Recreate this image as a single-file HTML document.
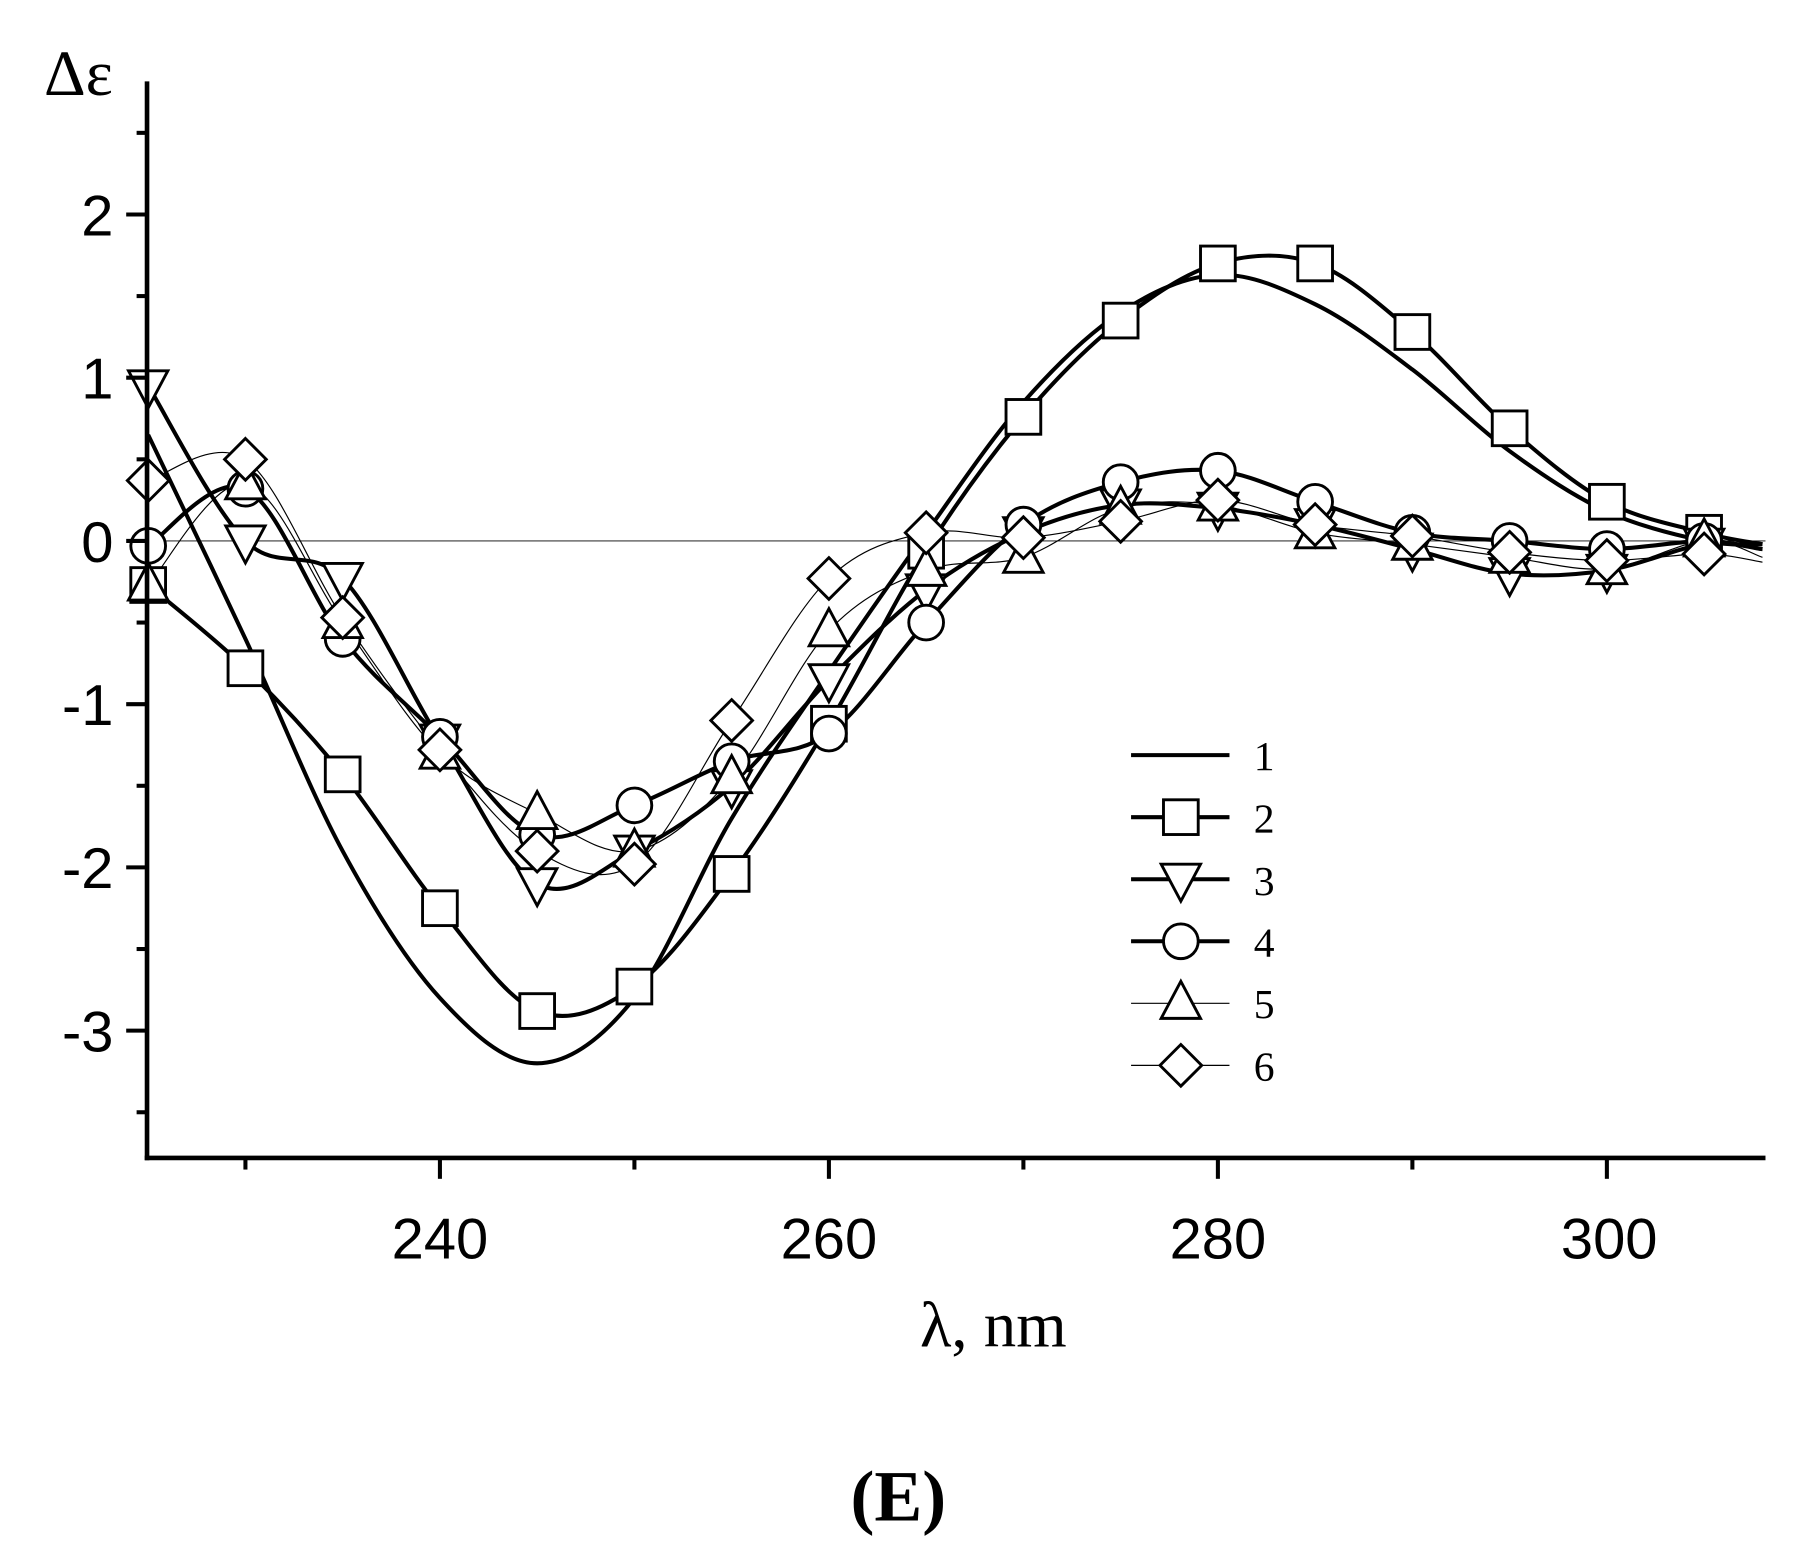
<!DOCTYPE html>
<html><head><meta charset="utf-8"><style>
html,body{margin:0;padding:0;background:#fff}
svg{display:block}
text{font-family:"Liberation Sans",sans-serif;fill:#000}
text.serif{font-family:"Liberation Serif",serif}
</style></head><body>
<svg id="s" width="1806" height="1560" viewBox="0 0 1560 1347" xmlns="http://www.w3.org/2000/svg">
<defs><clipPath id="c"><rect x="127" y="60" width="1400" height="940"/></clipPath></defs>
<line x1="127" y1="467" x2="1525" y2="467" stroke="#000" stroke-width="0.8"/>
<g id="curves" clip-path="url(#c)"></g>
<g id="marks"></g>
<g stroke="#000" stroke-width="4" fill="none">
<line x1="127" y1="70" x2="127" y2="1002"/>
<line x1="125" y1="1000" x2="1525" y2="1000"/>
</g>
<g id="ticks" stroke="#000" stroke-width="3.5"></g>
<g font-size="50" text-anchor="end">
<text x="98" y="203">2</text><text x="98" y="344">1</text><text x="98" y="485">0</text>
<text x="98" y="626">-1</text><text x="98" y="767">-2</text><text x="98" y="908">-3</text>
</g>
<g font-size="50" text-anchor="middle">
<text x="380" y="1087">240</text><text x="716" y="1087">260</text><text x="1052" y="1087">280</text><text x="1390" y="1087">300</text>
</g>
<text class="serif" x="38" y="82" font-size="56">Δε</text>
<text class="serif" x="858" y="1163" font-size="56" text-anchor="middle">λ, nm</text>
<text class="serif" x="776" y="1313" font-size="62" font-weight="bold" text-anchor="middle">(E)</text>
<g id="legend"></g>
<g font-size="36">
<text class="serif" x="1083" y="665">1</text><text class="serif" x="1083" y="719">2</text><text class="serif" x="1083" y="773">3</text>
<text class="serif" x="1083" y="826">4</text><text class="serif" x="1083" y="879">5</text><text class="serif" x="1083" y="933">6</text>
</g>
</svg>
<script>
const X=l=>380+(l-240)*16.8, Y=v=>467-141*v;
const L=[225,230,235,240,245,250,255,260,265,270,275,280,285,290,295,300,305,308];
const S=[
{m:null,w:3.5,d:[0.65,-0.6,-1.9,-2.8,-3.2,-2.8,-1.7,-0.8,0.05,0.85,1.4,1.63,1.45,1.05,0.55,0.18,0.0,-0.02]},
{m:'sq',w:3.5,d:[-0.27,-0.78,-1.43,-2.25,-2.88,-2.73,-2.04,-1.12,-0.06,0.76,1.35,1.70,1.70,1.28,0.69,0.24,0.05,-0.02]},
{m:'dt',w:3.5,d:[0.95,0.0,-0.23,-1.22,-2.1,-1.9,-1.5,-0.85,-0.3,0.05,0.22,0.20,0.1,-0.05,-0.2,-0.18,-0.02,-0.05]},
{m:'ci',w:3.5,d:[-0.03,0.32,-0.6,-1.2,-1.8,-1.62,-1.35,-1.18,-0.5,0.1,0.36,0.43,0.24,0.05,0.0,-0.05,0.0,-0.05]},
{m:'ut',w:1,d:[-0.27,0.35,-0.5,-1.3,-1.67,-1.9,-1.45,-0.55,-0.18,-0.1,0.2,0.22,0.05,-0.02,-0.1,-0.17,0.0,-0.1]},
{m:'di',w:1,d:[0.37,0.5,-0.47,-1.28,-1.9,-1.98,-1.1,-0.23,0.05,0.02,0.12,0.25,0.1,0.03,-0.07,-0.12,-0.08,-0.13]}];
const NS="http://www.w3.org/2000/svg";
function el(p,t,a){const e=document.createElementNS(NS,t);for(const k in a)e.setAttribute(k,a[k]);p.appendChild(e);return e;}
function path(pts){let d=`M${pts[0][0]},${pts[0][1]}`;for(let i=0;i<pts.length-1;i++){const p0=pts[Math.max(0,i-1)],p1=pts[i],p2=pts[i+1],p3=pts[Math.min(pts.length-1,i+2)];
d+=`C${p1[0]+(p2[0]-p0[0])/6},${p1[1]+(p2[1]-p0[1])/6} ${p2[0]-(p3[0]-p1[0])/6},${p2[1]-(p3[1]-p1[1])/6} ${p2[0]},${p2[1]}`;}return d;}
function marker(g,m,x,y){const a={fill:'#fff',stroke:'#000','stroke-width':2.5};const r=15;
if(m=='sq')el(g,'rect',{...a,x:x-r,y:y-r,width:2*r,height:2*r});
else if(m=='ci')el(g,'circle',{...a,cx:x,cy:y,r:r});
else if(m=='dt')el(g,'polygon',{...a,points:`${x-r-2},${y-r+2} ${x+r+2},${y-r+2} ${x},${y+r+4}`});
else if(m=='ut')el(g,'polygon',{...a,points:`${x-r-2},${y+r-2} ${x+r+2},${y+r-2} ${x},${y-r-4}`});
else if(m=='di')el(g,'polygon',{...a,points:`${x},${y-r-3} ${x+r+3},${y} ${x},${y+r+3} ${x-r-3},${y}`});}
const cg=document.getElementById('curves'),mg=document.getElementById('marks'),lg=document.getElementById('legend');
S.forEach((s,i)=>{const pts=L.map((l,j)=>[X(l),Y(s.d[j])]);
el(cg,'path',{d:path(pts),fill:'none',stroke:'#000','stroke-width':s.w});
const ly=652+i*53.6;el(lg,'line',{x1:977,y1:ly,x2:1062,y2:ly,stroke:'#000','stroke-width':s.w});
if(s.m){marker(lg,s.m,1020,ly);}});
S.forEach(s=>{if(s.m)L.forEach((l,j)=>{if(l<=305)marker(mg,s.m,X(l),Y(s.d[j]));});});
const tg=document.getElementById('ticks');
for(let v=-3.5;v<=2.5;v+=0.5){const y=Y(v),maj=Math.abs(v%1)<1e-6;el(tg,'line',{x1:maj?109:118,y1:y,x2:127,y2:y});}
for(let l=230;l<=305;l+=10){const x=X(l),maj=(l%20==0);el(tg,'line',{x1:x,y1:1000,x2:x,y2:maj?1018:1010});}
</script>
</body></html>
